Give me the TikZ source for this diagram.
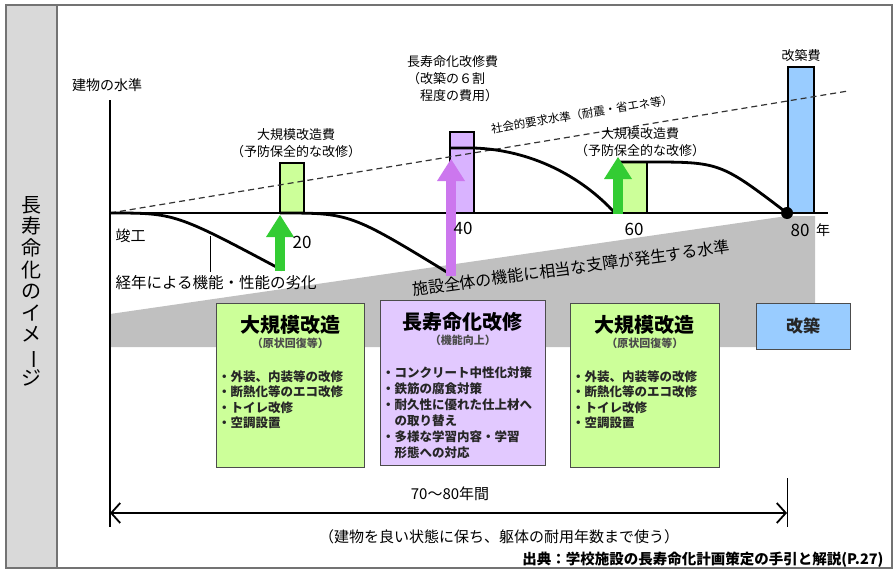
\documentclass[tikz,border=0pt]{standalone}
\usepackage{fontspec}
\setmainfont{Noto Sans CJK JP}
\usetikzlibrary{arrows.meta, positioning}
\definecolor{fillgreen}{HTML}{CCFF99}
\definecolor{fillpurple}{HTML}{E2C9FF}
\definecolor{toppurple}{HTML}{D9B3FF}
\definecolor{fillblue}{HTML}{99CCFF}
\definecolor{arrowgreen}{HTML}{33CC33}
\definecolor{arrowpurple}{HTML}{CC77EE}
\definecolor{bandgray}{HTML}{C0C0C0}
\definecolor{panelgray}{HTML}{D9D9D9}
\tikzstyle{frame} = [draw=black!55, line width=1.2pt]
\tikzstyle{costbar} = [rectangle, draw=black, line width=2.5pt, inner sep=0pt]
\tikzstyle{plan} = [rectangle, draw=black!70, line width=0.8pt, anchor=north west, inner sep=0pt]
\tikzstyle{head} = [font=\bfseries\fontsize{20}{22}\selectfont, inner sep=1pt]
\tikzstyle{sub} = [font=\bfseries\fontsize{11}{13}\selectfont, text=black!70, inner sep=1pt]
\tikzstyle{items} = [font=\bfseries\fontsize{12.5}{15.5}\selectfont, align=left, anchor=north west, inner sep=1pt, text=black!85]
\tikzstyle{costlbl} = [font=\fontsize{13}{17}\selectfont, align=center, inner sep=1pt]
\tikzstyle{num} = [font=\fontsize{17}{19}\selectfont, inner sep=1pt]
\tikzstyle{decay} = [line width=2.8pt]
\tikzstyle{demand} = [dash pattern=on 6pt off 4pt, line width=1.2pt, draw=black!80]
\tikzstyle{lift} = [line width=10pt, -{Triangle[length=22pt, width=28pt, line width=0pt]}]
\tikzstyle{span} = [line width=1.8pt, <->, >={Straight Barb[length=9pt, width=20pt]}]

\begin{document}
\begin{tikzpicture}[x=1pt, y=-1pt]
      \useasboundingbox (0,0) rectangle (895,573);
      \draw [frame, fill=panelgray] (6,5) rectangle (57,568);
      \draw [frame] (57,5) rectangle (892,568);
      \node (theme) [font=\fontsize{20}{21.6}\selectfont, align=center] at (31,291)
            {長\\寿\\命\\化\\の\\イ\\メ\\\rotatebox[origin=c]{-90}{ー}\\ジ};

      \fill [bandgray] (110,314) -- (787,216) -- (815,216) -- (815,347) -- (110,347) -- cycle;

      \coordinate (t0)  at (110,213);
      \coordinate (t80) at (787,213);
      \draw [line width=1.5pt] (110,100) -- (110,527);
      \draw [line width=1.5pt] (t0) -- (828,213);

      \node (cost20) [costbar, fill=fillgreen, minimum width=24pt, minimum height=50pt] at (292,188) {};
      \node (cost40) [costbar, fill=toppurple, minimum width=24pt, minimum height=81pt] at (462,172.5) {};
      \node (cost60) [costbar, fill=fillgreen, minimum width=29pt, minimum height=51pt] at (632.5,187.5) {};
      \node (cost80) [costbar, fill=fillblue, minimum width=26pt, minimum height=146pt] at (801,140) {};

      \draw [demand] (t0) -- (848,91);

      \draw [decay] (t0) .. controls (175,213) .. (282,270);
      \draw [decay] (280,213) .. controls (350,213) .. (450,274);
      \draw [decay] (450,148) -- (474,148) .. controls (530,150) and (580,175) .. (615,213);
      \draw [decay] (618,162) -- (647,162) .. controls (720,162) .. (t80);

      \draw [lift, arrowgreen]  (280,271) -- (280,215);
      \draw [lift, arrowpurple] (451,276) -- (451,159);
      \draw [lift, arrowgreen]  (618,214) -- (618,157);
      \fill (t80) circle (6pt);

      \node (ylbl)   [font=\fontsize{14}{16}\selectfont] at (107,85) {建物の水準};
      \node (lbl20)  [costlbl] at (296,143) {大規模改造費\\（予防保全的な改修）};
      \node (lbl40)  [costlbl, align=left, anchor=north west] at (406,54) {長寿命化改修費\\（改築の６割\\　程度の費用）};
      \node (lbl60)  [costlbl] at (640,142) {大規模改造費\\（予防保全的な改修）};
      \node (lbl80)  [costlbl, above=3pt of cost80] {改築費};
      \node (demandlbl) [font=\fontsize{11.5}{13}\selectfont, rotate=9.3] at (582,114) {社会的要求水準（耐震・省エネ等）};

      \node (start)  [font=\fontsize{15}{17}\selectfont, anchor=west] at (112,236) {竣工};
      \node (yr20)   [num] at (302,242) {20};
      \node (yr40)   [num] at (463,228) {40};
      \node (yr60)   [num] at (634,229) {60};
      \node (yr80)   [num] at (800,230) {80};
      \node (year)   [font=\fontsize{14}{16}\selectfont, right=2pt of yr80] {年};

      \node (decaylbl) [font=\fontsize{15.5}{17}\selectfont, anchor=west] at (112,283) {経年による機能・性能の劣化};
      \coordinate (decaypt) at (210,236);
      \draw [line width=0.8pt] (decaypt) -- (decaypt |- decaylbl.north);
      \node (bandlbl) [font=\fontsize{16}{18}\selectfont, rotate=7.8] at (571,268) {施設全体の機能に相当な支障が発生する水準};

      \node (planA) [plan, fill=fillgreen, minimum width=148pt, minimum height=164pt] at (216,303) {};
      \node (planAhead) [head, below=11pt of planA.north] {大規模改造};
      \node (planAsub)  [sub, below=1pt of planAhead] {（原状回復等）};
      \node (planAlist) [items, below right=66pt and 1pt of planA.north west]
            {・外装、内装等の改修\\・断熱化等のエコ改修\\・トイレ改修\\・空調設置};

      \node (planB) [plan, fill=fillpurple, minimum width=165pt, minimum height=165pt] at (380,300) {};
      \node (planBhead) [head, below=11pt of planB.north] {長寿命化改修};
      \node (planBsub)  [sub, below=1pt of planBhead] {（機能向上）};
      \node (planBlist) [items, font=\bfseries\fontsize{12.5}{16}\selectfont, below right=65pt and 1pt of planB.north west]
            {・コンクリート中性化対策\\・鉄筋の腐食対策\\・耐久性に優れた仕上材へ\\　の取り替え\\・多様な学習内容・学習\\　形態への対応};

      \node (planC) [plan, fill=fillgreen, minimum width=149pt, minimum height=164pt] at (570,303) {};
      \node (planChead) [head, below=11pt of planC.north] {大規模改造};
      \node (planCsub)  [sub, below=1pt of planChead] {（原状回復等）};
      \node (planClist) [items, below right=66pt and 1pt of planC.north west]
            {・外装、内装等の改修\\・断熱化等のエコ改修\\・トイレ改修\\・空調設置};

      \node (rebuild) [rectangle, draw=black!70, line width=0.8pt, fill=fillblue, minimum width=94pt, minimum height=46pt,
            font=\bfseries\fontsize{17}{19}\selectfont, text=black!85] at (803,326) {改築};

      \coordinate (spanl) at (110,513);
      \coordinate (spanr) at (787,513);
      \draw [line width=0.8pt] (787,478) -- (787,527);
      \draw [span] (spanl) -- (spanr);
      \node (spanlbl)  [font=\fontsize{15}{17}\selectfont] at (450,494) {70〜80年間};
      \node (spannote) [font=\fontsize{15}{17}\selectfont] at (499,537) {（建物を良い状態に保ち、躯体の耐用年数まで使う）};
      \node (source)   [font=\bfseries\fontsize{14.5}{16}\selectfont, anchor=east] at (887,560) {出典：学校施設の長寿命化計画策定の手引と解説(P.27)};
\end{tikzpicture}
\end{document}
